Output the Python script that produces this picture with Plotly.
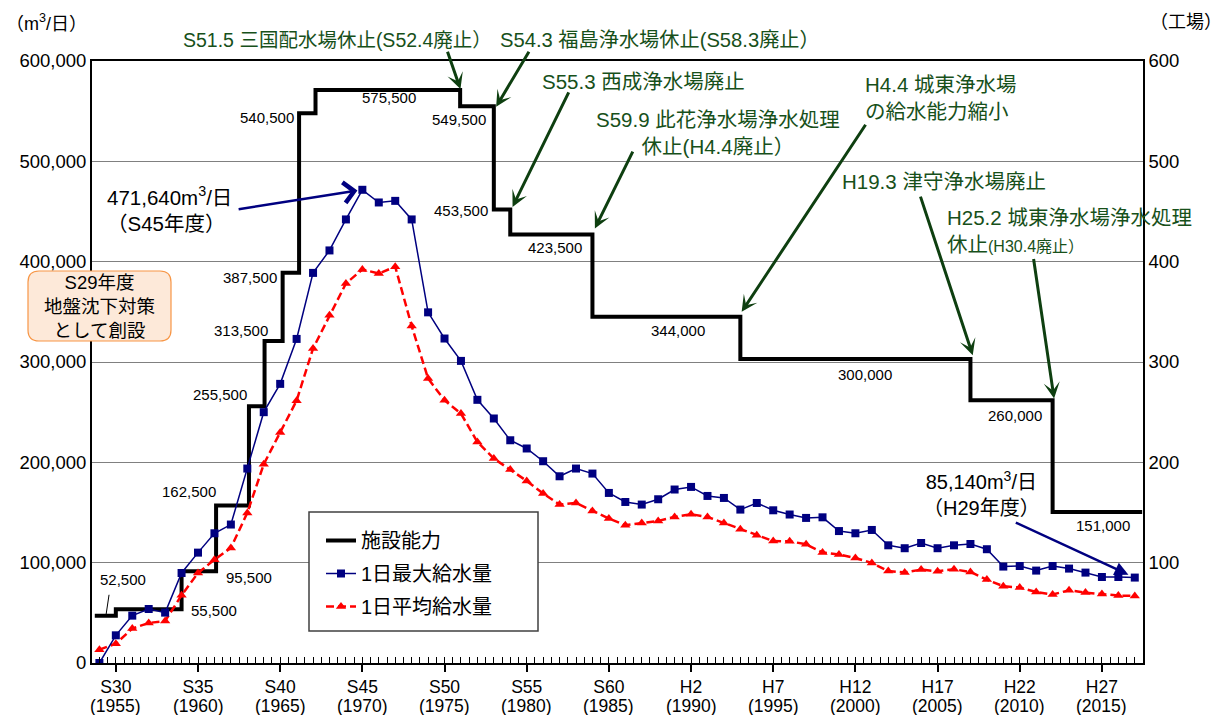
import plotly.graph_objects as go

# ---------------- data ----------------
years = list(range(1954, 2018))

max_supply = [0, 27600, 47200, 53800, 50200, 89700, 110000, 129300, 138000, 193800, 250000, 278200,
              323000, 388800, 411200, 442100, 471640, 459000, 460600, 442100, 349500, 323400, 301100, 262300,
              243700, 222000, 213800, 201100, 186100, 193800, 188800, 169500, 160500, 157900, 163200, 172900,
              175500, 166500, 164500, 152900, 159500, 152200, 148000, 144600, 145200, 131500, 129300, 132600,
              117300, 114400, 119600, 114400, 117300, 118600, 113400, 96100, 96700, 92100, 96700, 94100,
              90100, 85700, 85700, 85140]

avg_supply = [13300, 19300, 34300, 39900, 41900, 67500, 89700, 103000, 114700, 149600, 198100, 229700,
              261500, 313500, 346700, 378300, 392200, 388200, 395000, 336000, 283500, 261900, 248600, 220300,
              203800, 192800, 181500, 168900, 157900, 159500, 151500, 144000, 137300, 139600, 141600, 145600,
              148300, 145600, 139600, 133300, 127300, 121600, 121300, 118300, 110200, 108200, 104700, 99700,
              91700, 90100, 93100, 91400, 93400, 90700, 83100, 76500, 75200, 70800, 68200, 72500,
              70200, 68800, 67200, 66800]

cap_years = [1953.72, 1955.0, 1959.0, 1961.1, 1963.1, 1964.05, 1965.15, 1966.15, 1967.15,
             1975.95, 1978.0, 1979.0, 1984.0, 1993.0, 2007.0, 2012.0, 2017.45]
cap_values = [47000, 53500, 91500, 157000, 256000, 321000, 389000, 548000, 571000,
              555000, 452000, 427000, 345000, 303000, 262000, 150500, 150500]

cap_labels = ["52,500", "55,500", "95,500", "162,500", "255,500", "313,500", "387,500", "540,500",
              "575,500", "549,500", "453,500", "423,500", "344,000", "300,000", "260,000", "151,000"]

tick_years = [1955, 1960, 1965, 1970, 1975, 1980, 1985, 1990, 1995, 2000, 2005, 2010, 2015]
tick_era = ["S30", "S35", "S40", "S45", "S50", "S55", "S60", "H2", "H7", "H12", "H17", "H22", "H27"]
left_ticks = [0, 100000, 200000, 300000, 400000, 500000, 600000]
right_ticks = [100, 200, 300, 400, 500, 600]

series_names = ["施設能力", "1日最大給水量", "1日平均給水量"]

# ---------------- styling ----------------
NUM_FONT = "Liberation Sans, Arial, Noto Sans CJK JP, sans-serif"
JP_FONT = "Liberation Sans, Noto Sans CJK JP, sans-serif"
GREEN = "#17501a"
GREEN_ARROW = "#0e3f10"
NAVY = "#000080"
RED = "#ff0000"

W, H = 1224, 715
ML, MR, MT, MB = 92, 81, 61, 52
PW, PH = W - ML - MR, H - MT - MB


def X(px):
    return (px - ML) / PW


def Y(py):
    return (H - MB - py) / PH


fig = go.Figure()

fig.add_trace(go.Scatter(
    x=cap_years, y=cap_values, mode="lines", line=dict(color="black", width=4, shape="hv"),
    name=series_names[0], legendrank=1, legendgroup="a", hoverinfo="skip"))
fig.add_trace(go.Scatter(
    x=years, y=avg_supply, mode="lines+markers",
    line=dict(color=RED, width=2.5, dash="8px,4px"),
    marker=dict(symbol="triangle-up", size=9, color=RED),
    name=series_names[2], legendrank=3, legendgroup="c", hoverinfo="skip"))
fig.add_trace(go.Scatter(
    x=years, y=max_supply, mode="lines+markers",
    line=dict(color=NAVY, width=1.5),
    marker=dict(symbol="square", size=8, color=NAVY),
    name=series_names[1], legendrank=2, legendgroup="b", hoverinfo="skip"))
fig.add_trace(go.Scatter(x=[], y=[], yaxis="y2", showlegend=False, hoverinfo="skip"))

annotations = []

# second line of the x tick labels (western year)
for ty in tick_years:
    annotations.append(dict(x=ty, y=Y(706), xref="x", yref="paper", text=f"({ty})", showarrow=False,
                            xanchor="center", yanchor="middle",
                            font=dict(family=NUM_FONT, size=17.5, color="black")))

# capacity value labels
label_pos = [(1955.43, 83400), (1961.0, 52500), (1963.1, 85100), (1959.43, 171200), (1961.36, 267900),
             (1962.6, 331000), (1963.16, 383800), (1964.2, 543800), (1971.64, 563500), (1975.9, 541800),
             (1975.98, 451300), (1981.7, 414100), (1989.2, 331700), (2000.6, 287800), (2009.7, 247000),
             (2015.07, 137300)]
for txt, (lx, ly) in zip(cap_labels, label_pos):
    annotations.append(dict(x=lx, y=ly, xref="x", yref="y", text=txt, showarrow=False,
                            font=dict(family=NUM_FONT, size=15, color="black"),
                            xanchor="center", yanchor="middle"))

# leader line for the first label
annotations.append(dict(x=1954.4, y=47500, ax=1954.6, ay=69500, xref="x", yref="y", axref="x", ayref="y",
                        text="", showarrow=True, arrowhead=0, arrowwidth=1, arrowcolor="black",
                        standoff=0, startstandoff=0))


def arrow(hx, hy, tx, ty, color, width, head, size, standoff=0):
    return dict(x=hx, y=hy, ax=tx, ay=ty, xref="x", yref="y", axref="x", ayref="y", text="",
                showarrow=True, arrowhead=head, arrowsize=size, arrowwidth=width, arrowcolor=color,
                standoff=standoff, startstandoff=0)


GFS = 20.5
# green event notes above the plot (paper coordinates)
top_notes = [
    ("S51.5 三国配水場休止(S52.4廃止）", 337, 40, 19.5),
    ("S54.3 福島浄水場休止(S58.3廃止）", 660, 40, 20.2),
]
for txt, px, py, fs in top_notes:
    annotations.append(dict(x=X(px), y=Y(py), xref="paper", yref="paper", text=txt, showarrow=False,
                            xanchor="center", yanchor="middle",
                            font=dict(family=JP_FONT, size=fs, color=GREEN)))

# green event notes inside the plot
green_notes = [
    ("S55.3 西成浄水場廃止", 1987.1, 579300, "center"),
    ("S59.9 此花浄水場浄水処理<br>休止(H4.4廃止）", 1991.63, 528400, "center"),
    ("H4.4 城東浄水場<br>の給水能力縮小", 2000.47, 563500, "left"),
    ("H19.3 津守浄水場廃止", 2005.4, 479600, "center"),
    ("H25.2 城東浄水場浄水処理<br>休止<span style='font-size:16px'>(H30.4廃止）</span>", 2005.45, 430600, "left"),
]
for txt, gx, gy, anc in green_notes:
    annotations.append(dict(x=gx, y=gy, xref="x", yref="y", text=txt, showarrow=False, align=anc,
                            xanchor=anc, yanchor="middle",
                            font=dict(family=JP_FONT, size=GFS, color=GREEN)))

green_arrows = [
    (1975.97, 572000, 1975.15, 610600),
    (1978.14, 554300, 1980.19, 610700),
    (1979.14, 454600, 1982.6, 570300),
    (1984.15, 433100, 1986.5, 511200),
    (1993.08, 350000, 2000.68, 538000),
    (2007.14, 306800, 2003.93, 466300),
    (2012.09, 263600, 2010.83, 404200),
]
for hx, hy, tx, ty in green_arrows:
    annotations.append(arrow(hx, hy, tx, ty, GREEN_ARROW, 3, 3, 0.9))

# navy notes
peak_i = max_supply.index(max(max_supply))
annotations.append(dict(x=1954.33, y=452300, xref="x", yref="y",
                        text="471,640m<sup>3</sup>/日<br>（S45年度）", showarrow=False, align="left",
                        xanchor="left", yanchor="middle", font=dict(family=JP_FONT, size=20.5, color="black")))
annotations.append(arrow(years[peak_i], max_supply[peak_i], 1962.38, 452000, NAVY, 2.5, 4, 1.6, standoff=5))
annotations.append(dict(x=2007.65, y=169200, xref="x", yref="y",
                        text="85,140m<sup>3</sup>/日<br>（H29年度）", showarrow=False, align="center",
                        xanchor="center", yanchor="middle", font=dict(family=JP_FONT, size=20, color="black")))
annotations.append(arrow(years[-1], max_supply[-1], 2009.67, 140600, NAVY, 2.5, 2, 1.1, standoff=7))

# orange note box text
annotations.append(dict(x=X(99), y=Y(306), xref="paper", yref="paper",
                        text="S29年度<br>地盤沈下対策<br>として創設", showarrow=False, align="center",
                        xanchor="center", yanchor="middle", font=dict(family=JP_FONT, size=18.5, color="black")))

# axis unit labels
annotations.append(dict(x=X(4), y=Y(22), xref="paper", yref="paper", text="（m<sup>3</sup>/日）",
                        showarrow=False, xanchor="left", yanchor="middle",
                        font=dict(family=JP_FONT, size=18, color="black")))
annotations.append(dict(x=X(1148), y=Y(22), xref="paper", yref="paper", text="（工場）",
                        showarrow=False, xanchor="left", yanchor="middle",
                        font=dict(family=JP_FONT, size=18, color="black")))


def rounded_rect(x0, y0, x1, y1, r):
    return (f"M {X(x0 + r)},{Y(y0)} L {X(x1 - r)},{Y(y0)} Q {X(x1)},{Y(y0)} {X(x1)},{Y(y0 + r)} "
            f"L {X(x1)},{Y(y1 - r)} Q {X(x1)},{Y(y1)} {X(x1 - r)},{Y(y1)} "
            f"L {X(x0 + r)},{Y(y1)} Q {X(x0)},{Y(y1)} {X(x0)},{Y(y1 - r)} "
            f"L {X(x0)},{Y(y0 + r)} Q {X(x0)},{Y(y0)} {X(x0 + r)},{Y(y0)} Z")


shapes = [
    dict(type="path", xref="paper", yref="paper", path=rounded_rect(28, 271, 171, 341, 11),
         fillcolor="#fde9d9", line=dict(color="#f79646", width=1.2), layer="above"),
    dict(type="rect", xref="paper", yref="paper", x0=X(309), x1=X(538), y0=Y(631), y1=Y(512),
         fillcolor="white", line=dict(color="#404040", width=1.5), layer="above"),
]

fig.update_layout(
    width=W, height=H,
    margin=dict(l=ML, r=MR, t=MT, b=MB),
    paper_bgcolor="white", plot_bgcolor="white",
    font=dict(family=JP_FONT, color="black"),
    showlegend=True,
    legend=dict(x=X(321), y=Y(521), xanchor="left", yanchor="top", bgcolor="rgba(0,0,0,0)",
                borderwidth=0, font=dict(family=JP_FONT, size=20, color="black"),
                traceorder="grouped", tracegroupgap=4),
    xaxis=dict(range=[1953.55, 2017.5], tickmode="array", tickvals=tick_years,
               ticktext=tick_era,
               ticks="outside", ticklen=7, tickwidth=1.5, tickcolor="black",
               showline=True, linecolor="black", linewidth=2, mirror=True,
               showgrid=False, zeroline=False, automargin=False,
               tickfont=dict(family=NUM_FONT, size=17.5, color="black"),
               minor=dict(ticks="inside", ticklen=6, tickwidth=1, tickcolor="black",
                          tickmode="linear", tick0=1953.5, dtick=0.5, showgrid=False)),
    yaxis=dict(range=[0, 600000], tickmode="array", tickvals=left_ticks,
               ticktext=[f"{v:,}" for v in left_ticks],
               showgrid=True, gridcolor="#808080", gridwidth=1, automargin=False,
               showline=True, linecolor="black", linewidth=2, ticks="", zeroline=False,
               tickfont=dict(family=NUM_FONT, size=18.5, color="black")),
    yaxis2=dict(range=[0, 600], overlaying="y", side="right", tickmode="array", tickvals=right_ticks,
                showgrid=False, showline=True, linecolor="black", linewidth=1.5, ticks="",
                zeroline=False, automargin=False, tickfont=dict(family=NUM_FONT, size=18.5, color="black")),
    annotations=annotations,
    shapes=shapes,
)

fig.write_html("out.html", config={"displayModeBar": False},
               post_script="document.body.style.margin='0';")
